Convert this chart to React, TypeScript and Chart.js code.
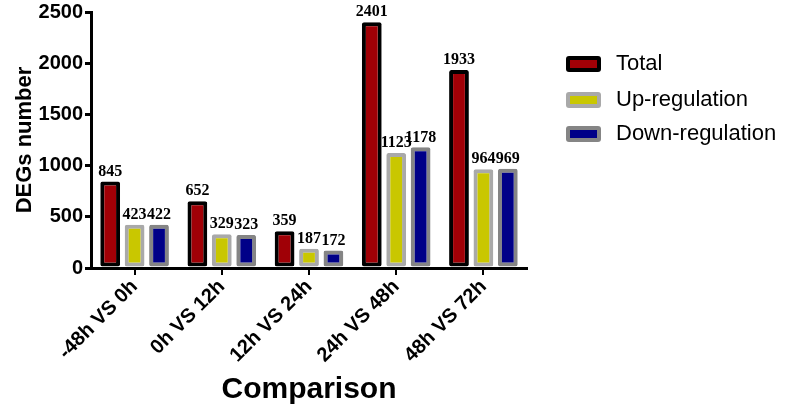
import React, { useEffect, useRef } from "react";
import { Chart, registerables } from "chart.js";

Chart.register(...registerables);

const categories = ["-48h VS 0h", "0h VS 12h", "12h VS 24h", "24h VS 48h", "48h VS 72h"];
const totalValues = [845, 652, 359, 2401, 1933];
const upValues = [423, 329, 187, 1123, 964];
const downValues = [422, 323, 172, 1178, 969];
const seriesNames = ["Total", "Up-regulation", "Down-regulation"];
const yTicks = [0, 500, 1000, 1500, 2000, 2500];

const SANS = "'Liberation Sans', Arial, sans-serif";
const SERIF = "'Liberation Serif', 'Times New Roman', serif";

const fills = ["#a00006", "#c9c700", "#000088"];
const borders = ["#000000", "#a9a9a9", "#858585"];

const valueLabels = {
  id: "valueLabels",
  afterDatasetsDraw(chart: any) {
    const ctx = chart.ctx;
    ctx.save();
    ctx.font = `bold 16px ${SERIF}`;
    ctx.fillStyle = "#000";
    ctx.textAlign = "center";
    ctx.textBaseline = "bottom";
    chart.data.datasets.forEach((ds: any, di: number) => {
      const meta = chart.getDatasetMeta(di);
      meta.data.forEach((el: any, i: number) => {
        ctx.fillText(String(ds.data[i]), el.x, el.y - 2);
      });
    });
    ctx.restore();
  },
};

const customLegend = {
  id: "customLegend",
  afterDraw(chart: any) {
    const ctx = chart.ctx;
    ctx.save();
    const x0 = 566;
    const bw = 35;
    const bh = 16;
    const ys = [64, 100, 134];
    chart.data.datasets.forEach((ds: any, i: number) => {
      const cy = ys[i];
      ctx.fillStyle = ds.borderColor;
      ctx.beginPath();
      ctx.roundRect(x0, cy - bh / 2, bw, bh, 3);
      ctx.fill();
      ctx.fillStyle = ds.backgroundColor;
      ctx.fillRect(x0 + 4, cy - bh / 2 + 4, bw - 8, bh - 8);
      ctx.fillStyle = "#000";
      ctx.font = `22px ${SANS}`;
      ctx.textAlign = "left";
      ctx.textBaseline = "middle";
      ctx.fillText(ds.label, 616, cy);
    });
    ctx.restore();
  },
};

export default function App() {
  const ref = useRef<HTMLCanvasElement | null>(null);

  useEffect(() => {
    if (!ref.current) return;
    const values = [totalValues, upValues, downValues];
    const chart = new Chart(ref.current, {
      type: "bar",
      data: {
        labels: categories,
        datasets: seriesNames.map((name, i) => ({
          label: name,
          data: values[i],
          backgroundColor: fills[i],
          borderColor: borders[i],
          borderWidth: 4,
          borderSkipped: false,
          borderRadius: 2,
          categoryPercentage: 0.84,
          barPercentage: 0.81,
        })),
      },
      options: {
        responsive: false,
        animation: false,
        layout: { padding: { top: 0, right: 260, left: 0, bottom: 0 } },
        plugins: {
          legend: { display: false },
          tooltip: { enabled: false },
        },
        scales: {
          x: {
            afterFit(scale: any) {
              scale.height = 145;
            },
            grid: {
              offset: false,
              drawOnChartArea: false,
              drawTicks: true,
              tickLength: 7,
              color: "#000",
              lineWidth: 2,
            },
            border: { display: true, color: "#000", width: 3 },
            ticks: {
              color: "#000",
              font: { family: SANS, size: 20, weight: "bold" },
              minRotation: 45,
              maxRotation: 45,
              padding: 0,
            },
            title: {
              display: true,
              text: "Comparison",
              color: "#000",
              font: { family: SANS, size: 30, weight: "bold" },
              padding: { top: 0, bottom: 5 },
            },
          },
          y: {
            min: 0,
            max: 2500,
            afterFit(scale: any) {
              scale.width = 91;
            },
            afterBuildTicks(scale: any) {
              scale.ticks = yTicks.map((v) => ({ value: v }));
            },
            grid: {
              drawOnChartArea: false,
              drawTicks: true,
              tickLength: 6,
              color: "#000",
              lineWidth: 3,
            },
            border: { display: true, color: "#000", width: 3 },
            ticks: {
              color: "#000",
              font: { family: SANS, size: 20, weight: "bold", lineHeight: 1.0 },
              padding: 2,
              callback: (v: any) => String(v),
            },
            title: {
              display: true,
              text: "DEGs number",
              color: "#000",
              font: { family: SANS, size: 22, weight: "bold" },
              padding: { top: 12, bottom: 0 },
            },
          },
        },
      },
      plugins: [valueLabels, customLegend],
    } as any);
    return () => chart.destroy();
  }, []);

  return (
    <div style={{ position: "fixed", left: 0, top: 0, width: 787, height: 413, background: "#fff" }}>
      <canvas ref={ref} width={787} height={413} style={{ width: 787, height: 413, display: "block" }} />
    </div>
  );
}
